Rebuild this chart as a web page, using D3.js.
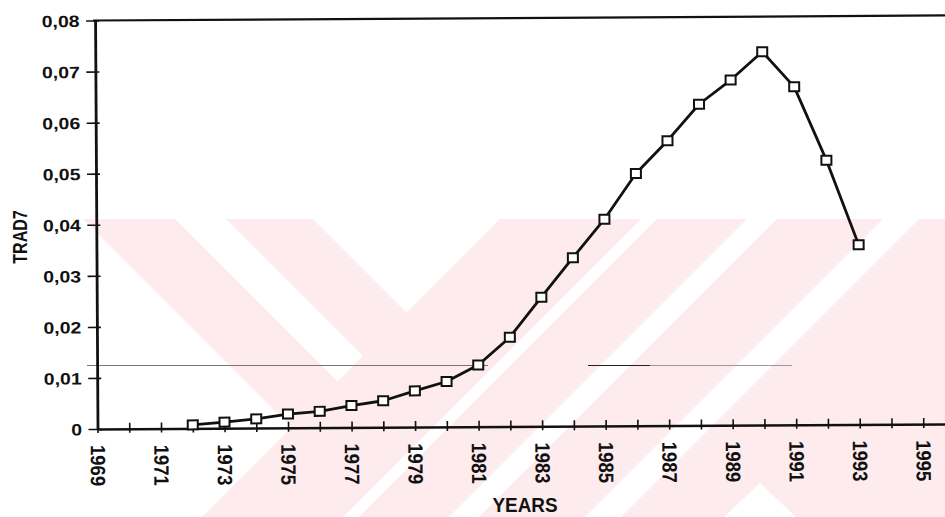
<!DOCTYPE html>
<html>
<head>
<meta charset="utf-8">
<script src="https://cdn.jsdelivr.net/npm/d3@7"></script>
<style>
  html, body { margin: 0; padding: 0; background: #fff; }
  svg { display: block; }
  text { font-family: "Liberation Sans", Arial, sans-serif; font-weight: bold; fill: #111; }
</style>
</head>
<body>
<script>
// ---- data ----
const years = [1972, 1973, 1974, 1975, 1976, 1977, 1978, 1979, 1980, 1981, 1982,
               1983, 1984, 1985, 1986, 1987, 1988, 1989, 1990, 1991, 1992, 1993];
const trad7 = [0.0007, 0.0012, 0.0018, 0.0027, 0.0032, 0.0043, 0.0052, 0.0071, 0.0089, 0.0121, 0.0175,
               0.0253, 0.0330, 0.0405, 0.0494, 0.0558, 0.0629, 0.0676, 0.0731, 0.0662, 0.0518, 0.0352];
const tickYears = d3.range(1969, 1996);          // a tick every year
const labelYears = d3.range(1969, 1996, 2);      // labelled every second year
const yTicks = [0, 0.01, 0.02, 0.03, 0.04, 0.05, 0.06, 0.07, 0.08];
const xTitle = "YEARS";
const yTitle = "TRAD7";

// ---- layout ----
const W = 945, H = 517;
const svg = d3.select("body").append("svg").attr("width", W).attr("height", H);

// pale pink stripe motif in the lower part of the page
const top0 = 219, bot0 = 517;
const pink = "#fdebee";
const wm = svg.append("g");
const drBand = (c1, c2, fill) => wm.append("polygon").attr("fill", fill).attr("points",
  [[c1 + top0, top0], [c2 + top0, top0], [c2 + bot0, bot0], [c1 + bot0, bot0]].join(" "));
const dlBand = (d1, d2, fill) => wm.append("polygon").attr("fill", fill).attr("points",
  [[d1 - top0, top0], [d2 - top0, top0], [d2 - bot0, bot0], [d1 - bot0, bot0]].join(" "));
// right-hand field, then the diagonal arms, then the pale gaps
wm.append("polygon").attr("fill", pink).attr("points",
  [[719 - top0, top0], [W, top0], [W, bot0], [719 - bot0, bot0]].join(" "));
drBand(-136, -44, pink);
drBand(7, 94, pink);
dlBand(860, 876, "#fff");
dlBand(966, 996, "#fff");
dlBand(1102, 1138, "#fff");
wm.append("polygon").attr("fill", "#fff").attr("points", "760,483 796,517 724,517");

// stray horizontal rules
const rules = svg.append("g").attr("stroke-width", 1);
rules.append("line").attr("x1", 87).attr("x2", 488).attr("y1", 365.5).attr("y2", 365.5).attr("stroke", "#777");
rules.append("line").attr("x1", 588).attr("x2", 650).attr("y1", 365.5).attr("y2", 365.5).attr("stroke", "#222");
rules.append("line").attr("x1", 650).attr("x2", 792).attr("y1", 365.5).attr("y2", 365.5).attr("stroke", "#999");

// the whole figure sits with a very slight counter-clockwise skew
const pxPerYear = 31.76;
const g = svg.append("g").attr("transform", "translate(97.5,429) rotate(-0.34)");

const x = d3.scaleLinear().domain([1969, 1997]).range([0, 28 * pxPerYear]);
const y = d3.scaleLinear().domain([0, 0.08]).range([0, -408.5]);

// top frame line
g.append("line")
  .attr("x1", x(1969) - 2).attr("x2", x(1997))
  .attr("y1", y(0.08)).attr("y2", y(0.08))
  .attr("stroke", "#111").attr("stroke-width", 2.2);

// x axis
const fmtComma = v => v === 0 ? "0" : d3.format(".2f")(v).replace(".", ",");
const xAxis = g.append("g").call(
  d3.axisBottom(x).tickValues(tickYears).tickSize(0).tickSizeOuter(0)
    .tickFormat(d => labelYears.includes(d) ? String(d) : ""));
xAxis.select(".domain").attr("stroke", "#111").attr("stroke-width", 2.6);
xAxis.selectAll(".tick line").attr("y1", -6).attr("y2", 4)
  .attr("stroke", "#111").attr("stroke-width", 1.6);
xAxis.selectAll(".tick text")
  .attr("x", 0).attr("y", 0).attr("dy", "0.36em")
  .attr("transform", "translate(0,16) scale(1.12,1) rotate(90)")
  .style("text-anchor", "start")
  .style("font-size", "18.5px")
  .attr("fill", "#111");

// y axis
const yAxis = g.append("g").call(
  d3.axisLeft(y).tickValues(yTicks).tickSize(0).tickSizeOuter(0).tickFormat(fmtComma));
yAxis.select(".domain").attr("stroke", "#111").attr("stroke-width", 2.8);
yAxis.selectAll(".tick line").attr("x1", -9).attr("x2", 4)
  .attr("stroke", "#111").attr("stroke-width", 1.6);
yAxis.selectAll(".tick text")
  .attr("x", 0).attr("dy", "0.36em")
  .attr("transform", "translate(-15.5,0) scale(1.18,1)")
  .style("text-anchor", "end")
  .style("font-size", "16.5px")
  .attr("fill", "#111");

// series line with square markers
const series = years.map((yr, i) => ({ year: yr, v: trad7[i] }));
g.append("path").datum(series)
  .attr("fill", "none").attr("stroke", "#111").attr("stroke-width", 2.8)
  .attr("stroke-linejoin", "round")
  .attr("d", d3.line().x(d => x(d.year)).y(d => y(d.v)));
g.selectAll("rect.mk").data(series).join("rect").attr("class", "mk")
  .attr("x", d => x(d.year) - 5).attr("y", d => y(d.v) - 4.5)
  .attr("width", 10).attr("height", 9)
  .attr("fill", "#fff").attr("stroke", "#111").attr("stroke-width", 2);

// axis titles
svg.append("text").text(xTitle)
  .attr("transform", "translate(525,512) scale(0.9,1)")
  .style("text-anchor", "middle").style("font-size", "21px");
svg.append("text").text(yTitle)
  .attr("transform", "translate(20,237) scale(1.25,1) rotate(-90)")
  .attr("dy", "0.36em")
  .style("text-anchor", "middle").style("font-size", "16px");
</script>
</body>
</html>
